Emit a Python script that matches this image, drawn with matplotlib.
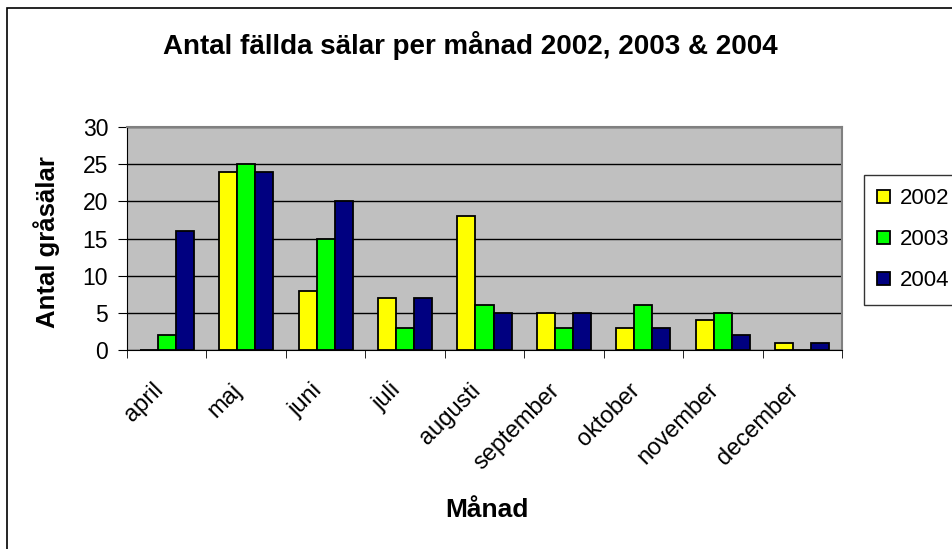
import numpy as np
import matplotlib.pyplot as plt
from matplotlib.patches import Rectangle
from matplotlib.transforms import ScaledTranslation

plt.rcParams['font.family'] = ['Liberation Sans', 'DejaVu Sans']

manader = ['april', 'maj', 'juni', 'juli', 'augusti', 'september',
           'oktober', 'november', 'december']
ar_2002 = [0, 24, 8, 7, 18, 5, 3, 4, 1]
ar_2003 = [2, 25, 15, 3, 6, 3, 6, 5, 0]
ar_2004 = [16, 24, 20, 7, 5, 5, 3, 2, 1]
serier = ['2002', '2003', '2004']
farger = ['#FFFF00', '#00FF00', '#000080']

W, H = 953, 549
fig = plt.figure(figsize=(W / 100, H / 100), dpi=100)
ax = fig.add_axes([127 / W, 1 - 350 / H, (842 - 127) / W, (350 - 127) / H])

# ram runt hela figuren (hoger- och nederkant utanfor bilden)
fig.patches.append(Rectangle((7 / W, -0.1), 1.2, 1.1 - 8 / H, transform=fig.transFigure,
                             fill=False, edgecolor='black', linewidth=1.2))

x = np.arange(len(manader))
bredd = 0.227
for i, (data, namn) in enumerate(zip([ar_2002, ar_2003, ar_2004], serier)):
    ax.bar(x + (i - 1) * bredd, data, bredd, color=farger[i], edgecolor='black',
           linewidth=1.3, label=namn, zorder=3)

ax.set_facecolor('#C0C0C0')
ax.set_xlim(-0.5, len(manader) - 0.5)
ax.set_ylim(0, 30)
ax.set_yticks(range(0, 31, 5))
ax.yaxis.grid(True, color='black', linewidth=1, zorder=1)
ax.tick_params(axis='y', labelsize=16.5, length=6.5, direction='out', pad=7)

ax.set_xticks(x)
ax.set_xticklabels(manader, rotation=45, ha='right', va='top', rotation_mode='anchor', fontsize=17)
ax.tick_params(axis='x', length=0, pad=21)
forskjut = ScaledTranslation(-0.15, 0, fig.dpi_scale_trans)
for lab in ax.get_xticklabels():
    lab.set_transform(lab.get_transform() + forskjut)
ax.set_xticks(np.arange(-0.5, len(manader)), minor=True)
ax.tick_params(axis='x', which='minor', length=6, direction='out')

for s in ['top', 'right']:
    ax.spines[s].set_color('#808080')
    ax.spines[s].set_linewidth(1.5)
for s in ['left', 'bottom']:
    ax.spines[s].set_color('black')

ax.set_ylabel('Antal gråsälar', fontsize=18.5, fontweight='bold', va='center')
ax.yaxis.set_label_coords((47 - 127) / 715, (350 - 242) / 223)
ax.set_xlabel('Månad', fontsize=19, fontweight='bold', va='center')
ax.xaxis.set_label_coords((487 - 127) / 715, (350 - 510) / 223)
fig.text(470 / W, 1 - 46 / H, 'Antal fällda sälar per månad 2002, 2003 & 2004',
         ha='center', va='center', fontsize=20, fontweight='bold')

leg = fig.legend(loc='upper left', bbox_to_anchor=(864 / W, 1 - 175 / H), fontsize=16,
                 frameon=True, fancybox=False, edgecolor='black', handlelength=0.55,
                 handleheight=0.55, handletextpad=0.45, labelspacing=0.9, borderpad=0.6,
                 borderaxespad=0)
leg.get_frame().set_linewidth(1)

fig.savefig('out.png', dpi=100)
